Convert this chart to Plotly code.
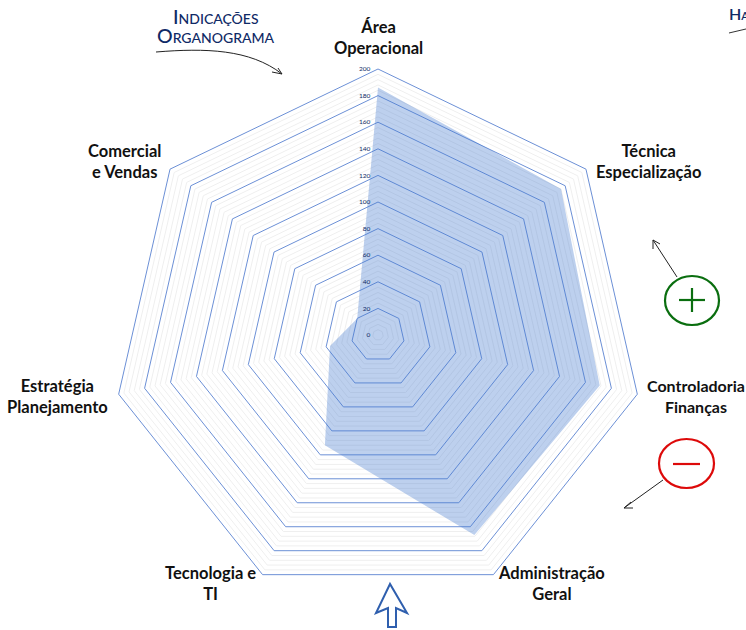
import plotly.graph_objects as go

W, H = 746, 630
categories = ["Área Operacional", "Técnica Especialização", "Controladoria Finanças",
              "Administração Geral", "Tecnologia e TI", "Estratégia Planejamento",
              "Comercial e Vendas"]
values = [186, 176, 171, 167, 92, 37, 20]
major_ticks = [0, 20, 40, 60, 80, 100, 120, 140, 160, 180, 200]
minor_levels = [4, 8, 12, 16, 24, 28, 32, 36, 44, 48, 52, 56, 64, 68, 72, 76, 84, 88, 92, 96,
                104, 108, 112, 116, 124, 128, 132, 136, 144, 148, 152, 156, 164, 168, 172, 176,
                184, 188, 192, 196]
axis_labels = [("Área<br>Operacional", 378, 37, 16.5), ("Técnica<br>Especialização", 648, 162, 16.5),
               ("Controladoria<br>Finanças", 696, 396, 16), ("Administração<br>Geral", 551, 583, 16.5),
               ("Tecnologia e<br>TI", 210, 583, 16.5), ("Estratégia<br>Planejamento", 57, 396, 16.5),
               ("Comercial<br>e Vendas", 124, 162, 16.5)]

CX, CY, R = 378, 335, 266
BLUE = "#6C90D6"
NAVY = "#0F2A66"
px = lambda x: x / W
py = lambda y: 1 - y / H

fig = go.Figure()
closed = categories + categories[:1]
for lv in minor_levels:
    fig.add_trace(go.Scatterpolar(r=[lv] * len(closed), theta=closed, mode="lines",
                                  line=dict(color="#EFEFEF", width=1), hoverinfo="skip",
                                  showlegend=False))
fig.add_trace(go.Scatterpolar(r=values + values[:1], theta=closed, mode="lines", fill="toself",
                              fillcolor="rgba(72,124,208,0.36)", line=dict(width=0),
                              showlegend=False, name="Indicações"))

ann = []
for text, x, y, size in axis_labels:
    ann.append(dict(text=text, x=px(x), y=py(y), xref="paper", yref="paper", showarrow=False,
                    xanchor="center", yanchor="middle", align="center",
                    font=dict(family="Lato", size=size, color="#111111", weight=700)))
for text, y in [("Indicações", 16), ("Organograma", 35)]:
    ann.append(dict(text=text, x=px(216), y=py(y), xref="paper", yref="paper",
                    showarrow=False, xanchor="center", yanchor="middle", align="center",
                    font=dict(family="Lato", size=19.5, color=NAVY, variant="small-caps", weight=500)))
ann.append(dict(text="Ha", x=px(727), y=py(13), xref="paper", yref="paper", showarrow=False,
                xanchor="left", yanchor="middle",
                font=dict(family="Lato", size=16, color=NAVY, variant="small-caps", weight=600)))

shapes = []
def path(points, close=False, **kw):
    d = "M" + " L".join(f"{px(x):.5f},{py(y):.5f}" for x, y in points) + (" Z" if close else "")
    shapes.append(dict(type="path", path=d, xref="paper", yref="paper", **kw))

# hand-drawn annotations
INK = dict(color="#222222", width=1)
curve = f"M{px(156):.5f},{py(52):.5f} C{px(205):.5f},{py(48):.5f} {px(250):.5f},{py(49):.5f} {px(282):.5f},{py(74):.5f}"
shapes.append(dict(type="path", path=curve, xref="paper", yref="paper", line=INK))
path([(272, 72), (282, 74), (278, 68)], line=INK)
path([(729, 33), (746, 29)], line=dict(color="#333333", width=1))
path([(677, 277), (653, 240)], line=INK)
path([(653, 249), (653, 240), (660, 244)], line=INK)
path([(663, 480), (624, 508)], line=INK)
path([(631, 502), (624, 508), (633, 508)], line=INK)
# plus
shapes.append(dict(type="circle", xref="paper", yref="paper", x0=px(665), x1=px(719), y0=py(276),
                   y1=py(325), line=dict(color="#0A6E0F", width=2.2)))
path([(679, 300), (705, 300)], line=dict(color="#0A6E0F", width=2.2))
path([(692, 288), (692, 312)], line=dict(color="#0A6E0F", width=2.2))
# minus
shapes.append(dict(type="circle", xref="paper", yref="paper", x0=px(659), x1=px(714), y0=py(439),
                   y1=py(488), line=dict(color="#DD0A0A", width=2.2)))
path([(673, 464), (700, 464)], line=dict(color="#DD0A0A", width=2.2))
# outline arrow
path([(390, 584), (376, 613), (388, 608), (388, 627), (396, 627), (396, 608), (407, 613)], close=True,
     line=dict(color="#2F5FAE", width=2), fillcolor="white")

fig.update_layout(
    width=W, height=H, autosize=False, paper_bgcolor="white", showlegend=False,
    margin=dict(l=0, r=0, t=0, b=0), annotations=ann, shapes=shapes,
    polar=dict(
        domain=dict(x=[px(CX - R), px(CX + R)], y=[py(CY + R), py(CY - R)]),
        gridshape="linear", bgcolor="rgba(0,0,0,0)",
        angularaxis=dict(direction="clockwise", rotation=90, showticklabels=False, ticks="",
                         showgrid=False, showline=True, linecolor=BLUE, linewidth=1,
                         categoryorder="array", categoryarray=categories),
        radialaxis=dict(range=[0, 200], tickvals=major_ticks, ticktext=[str(v) for v in major_ticks],
                        showgrid=True, gridcolor=BLUE, gridwidth=1, showline=False,
                        ticks="outside", ticklen=5, tickcolor="rgba(0,0,0,0)",
                        angle=90, tickangle=90, side="counterclockwise",
                        tickfont=dict(family="Lato", size=6.5, color=NAVY)),
    ),
)
fig.write_html("out.html", config={"displayModeBar": False},
               post_script="document.body.style.margin='0';document.body.style.overflow='hidden';")
